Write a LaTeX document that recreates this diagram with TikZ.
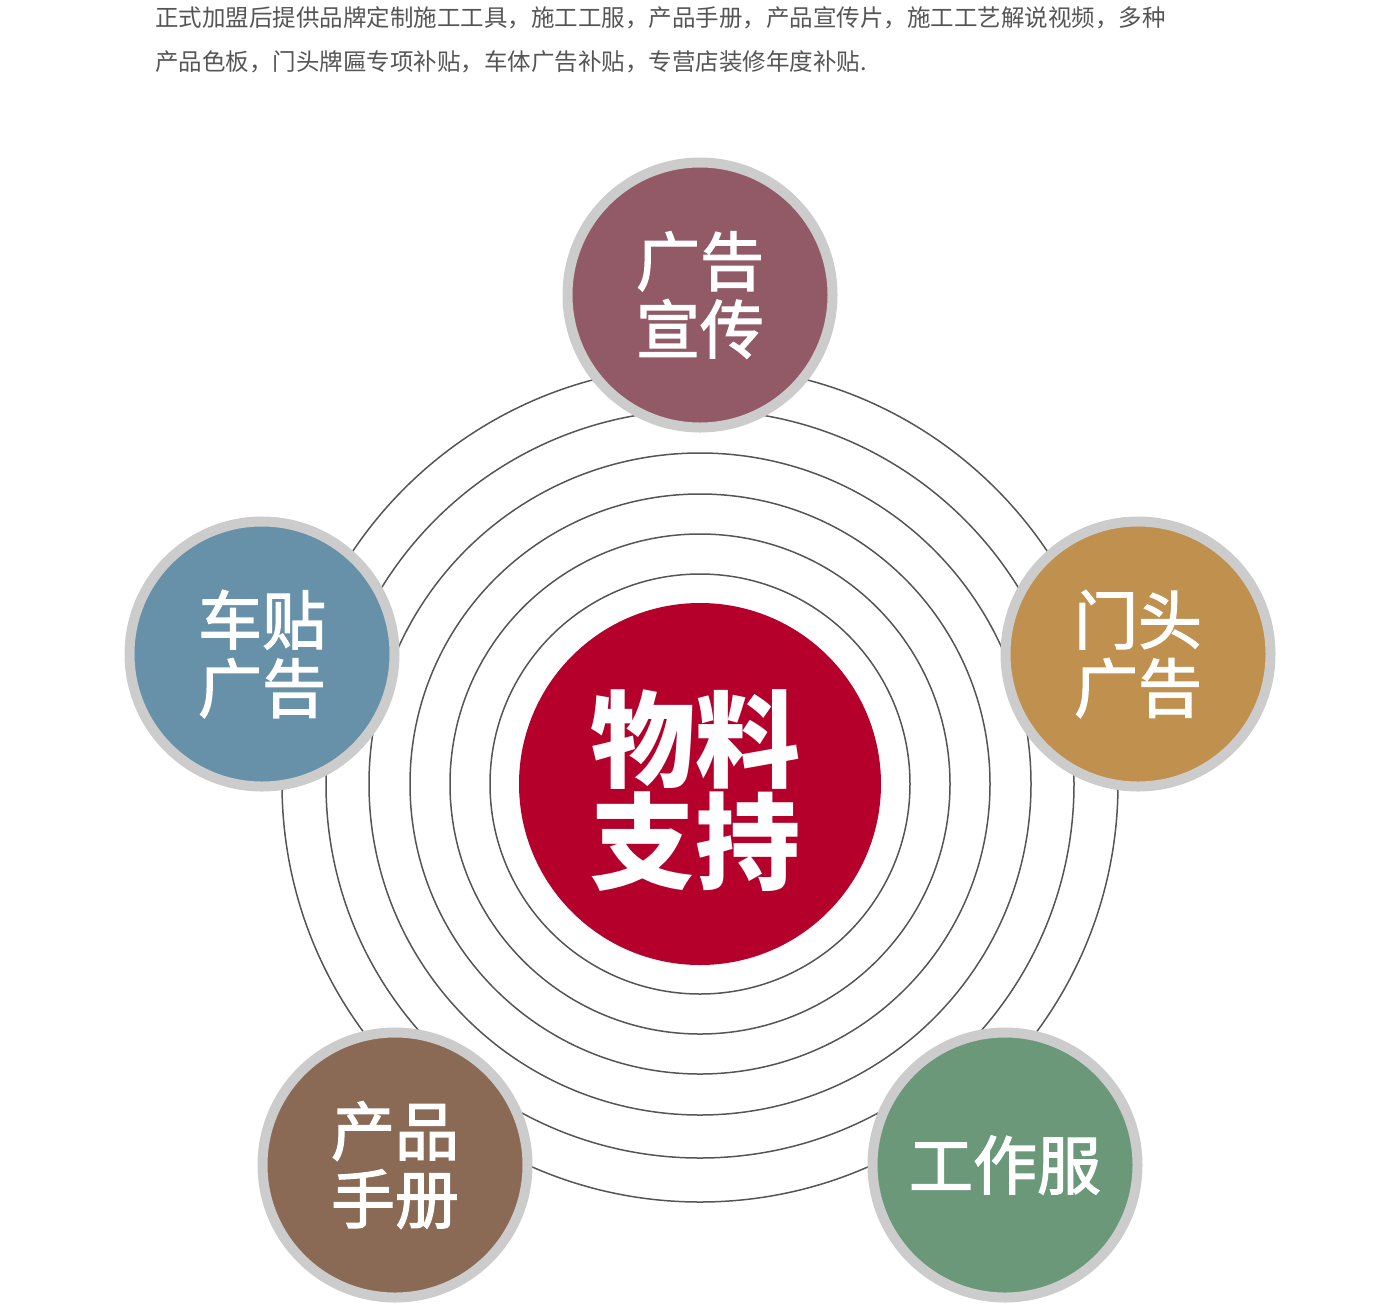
\documentclass[tikz,border=0pt]{standalone}
\usepackage{xcolor}
\usepackage{fontspec}
\usepackage{tikz}
\newfontfamily\cjk{Noto Sans CJK SC}
\newfontfamily\cjkmid[FakeBold=2]{Noto Sans CJK SC}
\definecolor{ringgrey}{HTML}{555555}
\definecolor{rimgrey}{HTML}{CCCCCC}
\definecolor{topred}{HTML}{B4002A}
\definecolor{plum}{HTML}{915A66}
\definecolor{steel}{HTML}{6790A9}
\definecolor{ochre}{HTML}{C0904E}
\definecolor{umber}{HTML}{8A6A54}
\definecolor{sage}{HTML}{6A9878}

\begin{document}
\begin{tikzpicture}[x=1pt,y=-1pt,
  ring/.style={draw=ringgrey,line width=1.5pt},
  bubble/.style={circle,draw=rimgrey,line width=10pt,minimum size=265pt,inner sep=0pt,text=white,align=center,font=\cjkmid\fontsize{64}{68}\selectfont},
  intro/.style={anchor=west,inner sep=0pt,text=ringgrey,font=\cjk\fontsize{23.5}{23.5}\selectfont}]
 \useasboundingbox (0,0) rectangle (1400,1310);

 \node[intro] (L1) at (155,18) {正式加盟后提供品牌定制施工工具，施工工服，产品手册，产品宣传片，施工工艺解说视频，多种};
 \node[intro] (L2) at (155,62) {产品色板，门头牌匾专项补贴，车体广告补贴，专营店装修年度补贴.};

 \coordinate (O) at (700,784);
 \foreach \r in {210,250,290,331,374,418}
   \draw[ring] (O) circle (\r pt);

 \node[circle,fill=topred,minimum size=362pt,inner sep=0pt] (M) at (O) {};
 \node[text=white,align=center,font=\cjk\bfseries\fontsize{105}{102}\selectfont] (MT) at (695,791) {物料\\支持};

 \node[bubble,fill=plum] (A) at (700,295) {广告\\宣传};
 \node[bubble,fill=steel] (B) at (262,654) {车贴\\广告};
 \node[bubble,fill=ochre] (C) at (1138,654) {门头\\广告};
 \node[bubble,fill=umber] (D) at (395,1165) {产品\\手册};
 \node[bubble,fill=sage] (E) at (1005,1165) {工作服};
\end{tikzpicture}
\end{document}
